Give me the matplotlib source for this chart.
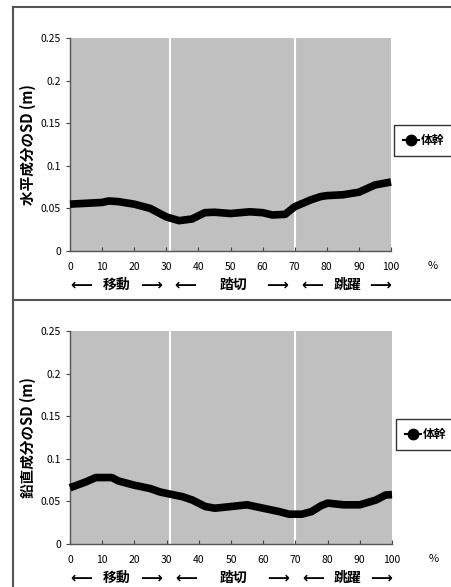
import matplotlib
matplotlib.use('Agg')
import matplotlib.pyplot as plt
from matplotlib.lines import Line2D

plt.rcParams['font.family'] = ['Noto Sans CJK JP', 'DejaVu Sans']

# percent of movement (x) and SD values
pct = [0, 5, 10, 12, 15, 20, 25, 30, 34, 38, 42, 45, 50, 56, 60, 63, 67, 70, 75, 78, 80, 85, 90, 95, 100]
sd_horiz = [0.055, 0.056, 0.057, 0.0587, 0.058, 0.055, 0.050, 0.040, 0.0356, 0.0376, 0.045, 0.0455,
            0.044, 0.046, 0.045, 0.0423, 0.043, 0.052, 0.060, 0.0638, 0.065, 0.066, 0.069, 0.0775, 0.081]

pct_v = [0, 5, 8, 13, 15, 20, 25, 28, 31, 35, 38, 42, 45, 50, 55, 60, 65, 68, 72, 75, 78, 80, 85, 90, 95, 98, 100]
sd_vert = [0.066, 0.073, 0.078, 0.078, 0.074, 0.069, 0.065, 0.061, 0.0586, 0.0555, 0.0516, 0.044, 0.042,
           0.044, 0.046, 0.042, 0.038, 0.035, 0.035, 0.038, 0.045, 0.048, 0.046, 0.046, 0.0516, 0.0575, 0.058]

phase_bounds = [31, 70]
phase_names = ['移動', '踏切', '跳躍']
phase_name_x = [14.6, 50.8, 86.3]
arrow_left_x = [3.4, 36, 75.4]
arrow_right_x = [25.2, 64.5, 96.6]
ylabels = ['水平成分のSD (m)', '鉛直成分のSD (m)']
series_name = '体幹'

fig = plt.figure(figsize=(4.52, 5.87), dpi=100)
W, H = 452.0, 587.0

panels = [
    (pct, sd_horiz, [70, 251, 321, 213], [394, 125]),
    (pct_v, sd_vert, [70, 544, 322, 213], [396, 419]),
]

for i, (xs, ys, box, leg) in enumerate(panels):
    left, bottom, w, h = box
    ax = fig.add_axes([left / W, 1 - bottom / H, w / W, h / H])
    ax.set_facecolor('#c0c0c0')
    for b in phase_bounds:
        ax.axvline(b, color='white', lw=1.5, zorder=1)
    ax.plot(xs, ys, color='black', lw=5.5, solid_joinstyle='round',
            solid_capstyle='butt', zorder=3, clip_on=False)
    # legend proxy: line with round marker like the Excel series
    ax.plot([], [], color='black', lw=1.5, marker='o', ms=7.5, label=series_name)
    ax.set_xlim(0, 100)
    ax.set_ylim(0, 0.25)
    ax.set_xticks(range(0, 101, 10))
    ax.set_yticks([0, 0.05, 0.1, 0.15, 0.2, 0.25])
    ax.set_yticklabels(['0', '0.05', '0.1', '0.15', '0.2', '0.25'])
    ax.tick_params(axis='x', direction='in', length=3, labelsize=7.5, pad=8, color='#444444')
    ax.tick_params(axis='y', direction='out', length=3, labelsize=7.5, color='#444444')
    for s in ['top', 'right']:
        ax.spines[s].set_visible(False)
    for s in ['left', 'bottom']:
        ax.spines[s].set_color('#555555')
        ax.spines[s].set_linewidth(1)
    ax.set_ylabel(ylabels[i], fontsize=10.5, fontweight='bold', labelpad=2)
    ax.yaxis.set_label_coords(-0.105, 0.5)
    ax.text(1.13, -0.07, '%', transform=ax.transAxes, fontsize=8, ha='center', va='center')
    # phase labels with arrows
    tr = ax.get_xaxis_transform()
    for k in range(3):
        ax.text(phase_name_x[k], -0.16, phase_names[k], transform=tr, fontsize=10,
                fontweight='bold', ha='center', va='center')
        ax.text(arrow_left_x[k], -0.16, '⟵', transform=tr, fontsize=11, ha='center',
                va='center', family='DejaVu Sans', fontweight='bold')
        ax.text(arrow_right_x[k], -0.16, '⟶', transform=tr, fontsize=11, ha='center',
                va='center', family='DejaVu Sans', fontweight='bold')
    lg = ax.legend(loc='upper left', bbox_to_anchor=(leg[0] / W, 1 - leg[1] / H),
                   bbox_transform=fig.transFigure, frameon=True, fancybox=False,
                   handlelength=1.4, handletextpad=0.15, borderpad=0.75, borderaxespad=0,
                   prop={'weight': 'bold', 'size': 8.5})
    lg.get_frame().set_edgecolor('black')
    lg.get_frame().set_linewidth(1)

# outer frame lines
fig.add_artist(Line2D([13 / W, 13 / W], [0, 1 - 7 / H], color='#555555', lw=1.5))
fig.add_artist(Line2D([13 / W, 1], [1 - 7 / H, 1 - 7 / H], color='#555555', lw=1.5))
fig.add_artist(Line2D([13 / W, 1], [1 - 300 / H, 1 - 300 / H], color='#555555', lw=1.5))

fig.savefig('out.png', dpi=100)
